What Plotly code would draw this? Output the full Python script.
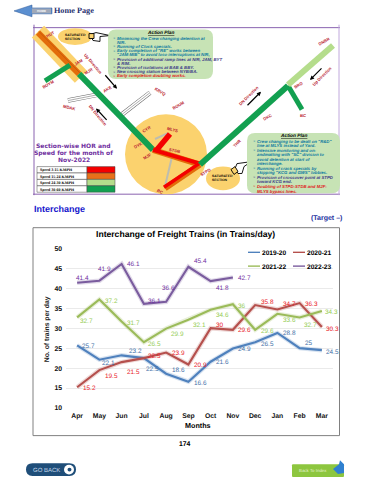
import plotly.graph_objects as go

months = ["Apr","May","Jun","Jul","Aug","Sep","Oct","Nov","Dec","Jan","Feb","Mar"]
s2019 = [25.7,22.1,23.2,22.5,18.6,16.6,21.6,24.9,26.5,28.8,25,24.5]
s2020 = [15.2,19.5,21.5,22.5,23.9,20.9,30,29.6,35.8,34.7,36.3,30.3]
s2021 = [32.7,37.2,31.7,26.5,29.9,32.1,34.6,36,29.6,33.6,32.7,34.3]
s2022 = [41.4,41.9,46.1,36.1,36.6,45.4,41.8,42.7]
yticks = [10,15,20,25,30,35,40,45,50]

W, H = 370, 480
X0, X1, Y0, Y1 = 66, 333, 410, 248
FONT = "Liberation Sans"

def px(x): return x / W
def py(y): return 1 - y / H

fig = go.Figure()
shapes, notes = [], []

def line(x0, y0, x1, y1, color, w):
    shapes.append(dict(type="line", xref="paper", yref="paper", x0=px(x0), y0=py(y0), x1=px(x1), y1=py(y1),
                       line=dict(color=color, width=w)))

def rect(x0, y0, x1, y1, fill, lc=None, lw=0):
    shapes.append(dict(type="rect", xref="paper", yref="paper", x0=px(x0), y0=py(y0), x1=px(x1), y1=py(y1),
                       fillcolor=fill, line=dict(color=lc or fill, width=lw)))

def ellipse(cx, cy, rx, ry, fill):
    shapes.append(dict(type="circle", xref="paper", yref="paper", x0=px(cx-rx), y0=py(cy-ry), x1=px(cx+rx), y1=py(cy+ry),
                       fillcolor=fill, line=dict(width=0)))

def poly(pts, fill, lc=None, lw=0):
    d = "M" + " L".join(f"{px(a):.5f},{py(b):.5f}" for a, b in pts) + " Z"
    shapes.append(dict(type="path", xref="paper", yref="paper", path=d, fillcolor=fill, line=dict(color=lc or fill, width=lw)))

def txt(x, y, s, size=5, color="#000", angle=0, anchor="center", bold=False, italic=False, family=FONT):
    if bold: s = f"<b>{s}</b>"
    if italic: s = f"<i>{s}</i>"
    notes.append(dict(xref="paper", yref="paper", x=px(x), y=py(y), text=s, showarrow=False, textangle=angle,
                      xanchor=anchor, yanchor="middle", font=dict(size=size, color=color, family=family),
                      borderpad=0, align="left"))

def arrow(x0, y0, x1, y1):
    notes.append(dict(xref="paper", yref="paper", x=px(x1), y=py(y1), ax=x0-x1, ay=y0-y1, axref="pixel", ayref="pixel",
                      text="", showarrow=True, arrowhead=2, arrowsize=0.7, arrowwidth=1.2, arrowcolor="#000"))

def pill(x0, y0, x1, y1, r, fill):
    p = (f"M{px(x0+r)},{py(y0)} L{px(x1-r)},{py(y0)} Q{px(x1)},{py(y0)} {px(x1)},{py(y0+r)} "
         f"L{px(x1)},{py(y1-r)} Q{px(x1)},{py(y1)} {px(x1-r)},{py(y1)} L{px(x0+r)},{py(y1)} "
         f"Q{px(x0)},{py(y1)} {px(x0)},{py(y1-r)} L{px(x0)},{py(y0+r)} Q{px(x0)},{py(y0)} {px(x0+r)},{py(y0)} Z")
    shapes.append(dict(type="path", xref="paper", yref="paper", path=p, fillcolor=fill, line=dict(width=0)))

# ---------- page furniture ----------
poly([(14,7),(32,1),(32,4),(52,4),(52,10),(32,10),(32,13)], "#5B8FD0", "#2B5797", 0.5)
rect(32,4.5,51,9.5,"#9FA8B8")
txt(41,7,"HOME",3,"#FFFFFF",bold=True)
txt(53,6.5,"Home Page",8.2,"#1F2F6F",anchor="left",bold=True,family="Liberation Serif")

# ---------- schematic ----------
GREEN, ORANGE, RED, LGREEN, YEL = "#12A050", "#E36C0A", "#F40000", "#B5DD8C", "#FBD26E"
DRED = "#B8182E"
line(33,24,340,24,"#8A63B0",1)
line(34,21,34,194,"#8A63B0",1)
line(33,193,340,193,"#8A63B0",1)
line(339,21,339,194,"#C0A8DC",1)

line(38,28,81,74,YEL,17)
ellipse(166,152.5,41,40.5,YEL)
ellipse(75,33,17,8.5,YEL)
ellipse(223,177,17,12,YEL)

for a in [(122,112,150,90),(68,98,98,92)]:
    line(*a,"#666666",4.5); line(*a,"#FFFFFF",3.5); line(*a,"#777777",0.6)
line(155,137,168,131,"#BDBDB0",2)
line(172,155,165,185,"#BDBDB0",2)

line(38,29,79,71,ORANGE,6)
line(39,28,80,70,"#C85A0A",1)
line(70,62,45,78,GREEN,5)
line(79,71,153,148,GREEN,6)
line(153,148,200,163,ORANGE,6)
line(153,148,200,162,RED,4)
line(156,149,170,132,RED,5.5)
line(200,163,165,187,ORANGE,6)
line(199,162,164,186,RED,3.5)
line(200,163,288,83,GREEN,6)
line(288,83,302,107,GREEN,5)
line(288,82,333,42,LGREEN,6)

arrow(104,71,117,86); arrow(108,119,96,106); arrow(323,64,310,77); arrow(246,104,261,89)

for s,x,y,a in [("HUT",50,31,-30),("JAM",78,59,-30),("MJR",88,68,-30),("AKE",107,87,-30),("BOYM",48,82,-30),
                ("MDAK",69,105,15),("KRVQ",160,89,30),("BOUM",178,103,-30),("Up Direction",93,60,50),
                ("DN Direction",98,113,50),("DNBR",324,38,-30),("Up Direction",322,74,-45),("DN Direction",249,93,-45),
                ("BRD",298,83,-30),("BC",303,113,0),("DKC",267,115,-30),("THR",237,142,-45),("STPD",205,171,-30),
                ("STDB",174,149,10),("MLYS",172,127,15),("CYR",146,127,-30),("DYK",138,144,-30),("MJF",147,155,-30),("BC",160,190,30)]:
    txt(x,y,s,4.2,DRED,a,bold=True)
txt(75,33,"SATURATED<br>SECTION",3.4,"#000",bold=True)
txt(223,177,"SATURATED<br>SECTION",3.4,"#000",bold=True)

# hand pointers
poly([(90,31),(96,29),(110,32),(100,33),(100,38),(93,37)],"#FFFFFF","#000",0.9)
rect(89,30,94,35,YEL,"#000",0.9)
poly([(235,167),(237,162),(251,160),(244,165),(242,172),(238,172)],"#FFFFFF","#000",0.9)
poly([(231,168),(235,165),(238,170),(234,173)],YEL,"#000",0.9)

# action plan boxes
BOX = "#C7E3B5"
BLUE_T, PUR_T = "#0F7AA0", "#3E3C88"
pill(108,26,213,76,8,BOX)
pill(247,131,340,192,8,BOX)

txt(160,28.8,"<u>Action Plan</u>",4.8,"#000",bold=True,italic=True)
top_lines = [(1,"Minimising the Crew changing detention at",BLUE_T),(0,"NIR.",BLUE_T),
             (1,"Running of Clock specials.",BLUE_T),(1,"Early completion of \"RE\" works between",BLUE_T),
             (0,"\"JAM-MIB\" to avoid loco interruptions at NIR,",BLUE_T),
             (1,"Provision of additional ramp lines at NIR, JAM, BYT",PUR_T),(0,"&amp; RIM.",PUR_T),
             (1,"Provision of isolations at BAB &amp; BBY.",PUR_T),(1,"New crossing station between NYB/BA.",PUR_T),
             (1,"Early completion doubling works.","#E02020")]
for i,(b,s,c) in enumerate(top_lines):
    y = 34.6 + i*4.25
    if b: txt(112,y,"➢",3.2,c,anchor="left",family="DejaVu Sans")
    txt(116,y,s,4.3,c,anchor="left",bold=True,italic=True)

txt(293,133.2,"<u>Action Plan</u>",4.8,"#000",bold=True,italic=True)
low_lines = [(1,"Crew changing to be dealt on \"R&amp;D\"",BLUE_T),(0,"line at MLYS instead of Yard.",BLUE_T),
             (1,"Intensive monitoring and on-",BLUE_T),(0,"andmatting with \"SC\" division to",BLUE_T),
             (0,"avoid detention at start of",BLUE_T),(0,"interchange.",BLUE_T),
             (1,"Running of crack specials by",BLUE_T),(0,"skipping \"KCG and GWS\" lobbies.",BLUE_T),
             (1,"Provision of crossover point at STPD",PUR_T),(0,"toward KCG end.",PUR_T),
             (1,"Doubling of STPD-STDB and MJF-","#E02020"),(0,"MLYS bypass lines.","#E02020")]
for i,(b,s,c) in enumerate(low_lines):
    y = 139.2 + i*4.6
    if b: txt(252,y,"➢",3.2,c,anchor="left",family="DejaVu Sans")
    txt(256,y,s,4.3,c,anchor="left",bold=True,italic=True)

# section title & speed table
for y,s in [(143.5,"Section-wise HOR and"),(151,"Speed for the month of"),(158.3,"Nov-2022")]:
    txt(73.5,y,s,6,"#7030A0",bold=True,family="DejaVu Sans")
speed_labels = ["Speed 3-15 KMPH","Speed 15-24 KMPH","Speed 24-30 KMPH","Speed 30-60 KMPH"]
speed_cols = [RED,"#E8701A",LGREEN,GREEN]
for i,(s,c) in enumerate(zip(speed_labels,speed_cols)):
    y = 165+i*6.5
    rect(37,y,87,y+6.5,"#FFFFFF","#444",0.5)
    rect(87,y,115,y+6.5,c,"#444",0.5)
    txt(39,y+3.25,s,4,"#000",anchor="left",bold=True,family="Liberation Serif")

txt(32.5,208,"Interchange",9,"#1414CC",anchor="left",bold=True)
txt(343,217,"(Target –)",7,"#1A2FA0",anchor="right",bold=True)

# ---------- chart frame ----------
rect(33,227,339.5,438,"rgba(0,0,0,0)","#808080",1)
txt(185.5,233,"Interchange of Freight Trains (in Trains/day)",8.6,"#000",bold=True)
txt(198,427.5,"Months",7.2,"#000",bold=True)
txt(47,330,"No. of trains per day",6.8,"#222",angle=-90,bold=True)

# ---------- series ----------
series = [("2019-20",s2019,"#4F81BD","#3F6FA8"),("2020-21",s2020,"#B5504D","#E8202A"),
          ("2021-22",s2021,"#9BBB59","#95CC55"),("2022-23",s2022,"#7A5C9E","#7030A0")]
# label offsets (right px, up px) per point
offsets = {
 "2019-20":[(11,0),(9,-3),(14,5),(9,-10),(12,4),(12,-1),(12,0),(12,0),(12,-1),(12,0),(9,6),(11,-1)],
 "2020-21":[(12,0),(12,-5),(12,-9),(11,3),(12,0),(12,0),(9,4),(12,0),(12,4),(12,6),(12,0),(11,-1)],
 "2021-22":[(9,-3),(12,-1),(12,-1),(11,-1),(11,-5),(11,-5),(12,-5),(9,-1),(12,-1),(12,-6),(11,-7),(10,0)],
 "2022-23":[(5,5),(5,12),(12,0),(11,3),(2,14),(12,6),(12,-6),(12,0)],
}
for name,vals,lc,tc in series:
    xs = months[:len(vals)]
    fig.add_trace(go.Scatter(x=xs,y=vals,mode="lines",line=dict(color=lc,width=4.5),opacity=0.22,hoverinfo="skip",showlegend=False))
    fig.add_trace(go.Scatter(x=xs,y=vals,mode="lines",line=dict(color=lc,width=2.1),name=name,showlegend=False))
    for m,v,(dx,dy) in zip(xs,vals,offsets[name]):
        notes.append(dict(x=m,y=v,xref="x",yref="y",text=f"{v:g}",showarrow=False,xshift=dx,yshift=dy,
                          font=dict(size=6.4,color=tc,family=FONT)))

# legend, drawn by hand to keep the reference's short keys
for (name,_,lc,_t),(x,y) in zip(series,[(248,252),(293,252),(248,266),(293,266)]):
    line(x,y,x+12,y,lc,1.4)
    txt(x+13,y,name,6.6,"#000",anchor="left",bold=True)

# ---------- buttons ----------
pill(26,466,76,479,6.5,"#1F4E79")
ellipse(69,472.5,5,5,"#FFFFFF")
ellipse(69.5,472.5,2,2,"#1F4E79")
txt(46,472.5,"GO BACK",6,"#C8DCEE")
pill(292,467,344,480,1,"#8DC63F")
txt(313,473,"Back To Index",4.4,"#E6F3D0")
poly([(333,472),(339,467),(340,463),(344,467),(344,476),(338,477)],"#2F80D0")
txt(185,446,"174",6.8,"#000",bold=True)

fig.update_layout(
    width=W, height=H, margin=dict(l=0,r=0,t=0,b=0), paper_bgcolor="white", plot_bgcolor="white",
    showlegend=False, shapes=shapes, annotations=notes, font=dict(family=FONT),
    xaxis=dict(domain=[X0/W,X1/W],categoryorder="array",categoryarray=months,range=[-0.5,11.5],showgrid=False,
               zeroline=False,showline=False,ticks="",tickfont=dict(size=6.8,color="#111",weight="bold"),anchor="y",
               ticklabelstandoff=2),
    yaxis=dict(domain=[1-Y0/H,1-Y1/H],range=[10,50],tickvals=yticks,showgrid=True,gridcolor="#EAEAEA",gridwidth=1,
               zeroline=False,showline=False,ticks="",tickfont=dict(size=6.8,color="#111",weight="bold"),anchor="x",
               ticklabelstandoff=3),
)
css = ("var st=document.createElement('style');"
       "st.textContent='svg text{text-rendering:geometricPrecision !important}';"
       "document.head.appendChild(st);"
       "document.body.style.margin='0';document.body.style.overflow='hidden';")
fig.write_html("out.html", post_script=css, config=dict(displayModeBar=False))
